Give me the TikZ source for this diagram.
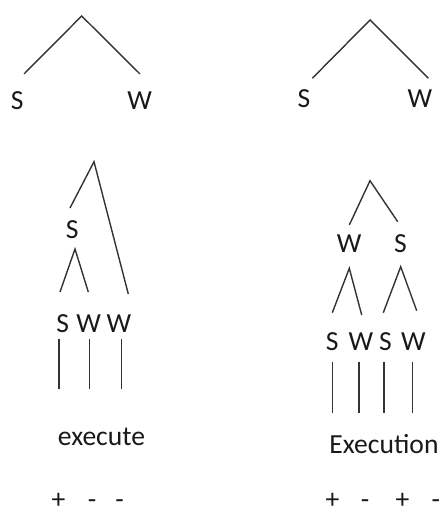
\documentclass[tikz,border=0pt]{standalone}
\usepackage{fontspec}
\setmainfont{Carlito}

\begin{document}
\begin{tikzpicture}[x=.5pt,y=-.5pt,
  syl/.style={inner sep=0pt,font=\fontsize{13.8}{16}\selectfont,text=black!90},
  word/.style={syl,anchor=base},
  branch/.style={draw=black!80,line width=.7pt}]
\useasboundingbox (0,0) rectangle (443,513);

% top left: S W
\coordinate (ta) at (81.7,16);
\coordinate (tal) at (24,74);
\coordinate (tar) at (140,74);
\node[syl] (ts) at (17.3,101) {S};
\node[syl] (tw) at (139.7,101) {W};
\draw[branch] (tal)--(ta)--(tar);

% top right: S W
\coordinate (ua) at (370,20);
\coordinate (ual) at (312.3,78.3);
\coordinate (uar) at (428.3,78.3);
\node[syl] (us) at (304,99) {S};
\node[syl] (uw) at (420,99) {W};
\draw[branch] (ual)--(ua)--(uar);

% execute
\coordinate (ea) at (94,161.7);
\coordinate (eal) at (70,208);
\coordinate (ear) at (128.3,294);
\draw[branch] (eal)--(ea)--(ear);
\node[syl] (es) at (72.3,230) {S};
\coordinate (eb) at (75,249);
\coordinate (ebl) at (60,292);
\coordinate (ebr) at (88.3,292);
\draw[branch] (ebl)--(eb)--(ebr);
\node[syl] (e1) at (62.7,324) {S};
\node[syl] (e2) at (88.7,324) {W};
\node[syl] (e3) at (119,324) {W};
\coordinate (e1t) at (59,339);   \coordinate (e1b) at (59,389);
\coordinate (e2t) at (89.3,339); \coordinate (e2b) at (89.3,389);
\coordinate (e3t) at (121.7,339);\coordinate (e3b) at (121.7,389);
\draw[branch] (e1t)--(e1b);
\draw[branch] (e2t)--(e2b);
\draw[branch] (e3t)--(e3b);
\node[word] (ew) at (101.5,445.7) {execute};
\node[word] (ep1) at (58.5,508) {+};
\node[word] (ep2) at (92,508) {-};
\node[word] (ep3) at (119.5,508) {-};

% Execution
\coordinate (xa) at (370,180.7);
\coordinate (xal) at (349.3,225);
\coordinate (xar) at (397.7,221.7);
\draw[branch] (xal)--(xa)--(xar);
\node[syl] (xw) at (349.2,243.3) {W};
\node[syl] (xs) at (400.5,243.3) {S};
\coordinate (xb) at (349.3,268.3);
\coordinate (xbl) at (332.3,312.7);
\coordinate (xbr) at (361.7,315);
\draw[branch] (xbl)--(xb)--(xbr);
\coordinate (xc) at (400.7,266.7);
\coordinate (xcl) at (383.3,312.7);
\coordinate (xcr) at (416.7,310.7);
\draw[branch] (xcl)--(xc)--(xcr);
\node[syl] (x1) at (332.2,341.7) {S};
\node[syl] (x2) at (360.8,341.7) {W};
\node[syl] (x3) at (385.5,341.7) {S};
\node[syl] (x4) at (413.3,341.7) {W};
\coordinate (x1t) at (332.3,361.7); \coordinate (x1b) at (332.3,413.3);
\coordinate (x2t) at (359,361.7);   \coordinate (x2b) at (359,413.3);
\coordinate (x3t) at (384,361.7);   \coordinate (x3b) at (384,413.3);
\coordinate (x4t) at (412.7,361.7); \coordinate (x4b) at (412.7,413.3);
\draw[branch] (x1t)--(x1b);
\draw[branch] (x2t)--(x2b);
\draw[branch] (x3t)--(x3b);
\draw[branch] (x4t)--(x4b);
\node[word] (xw2) at (384,453) {Execution};
\node[word] (xp1) at (332.5,508) {+};
\node[word] (xp2) at (365,508) {-};
\node[word] (xp3) at (402.5,508) {+};
\node[word] (xp4) at (435.8,508) {-};
\end{tikzpicture}
\end{document}
